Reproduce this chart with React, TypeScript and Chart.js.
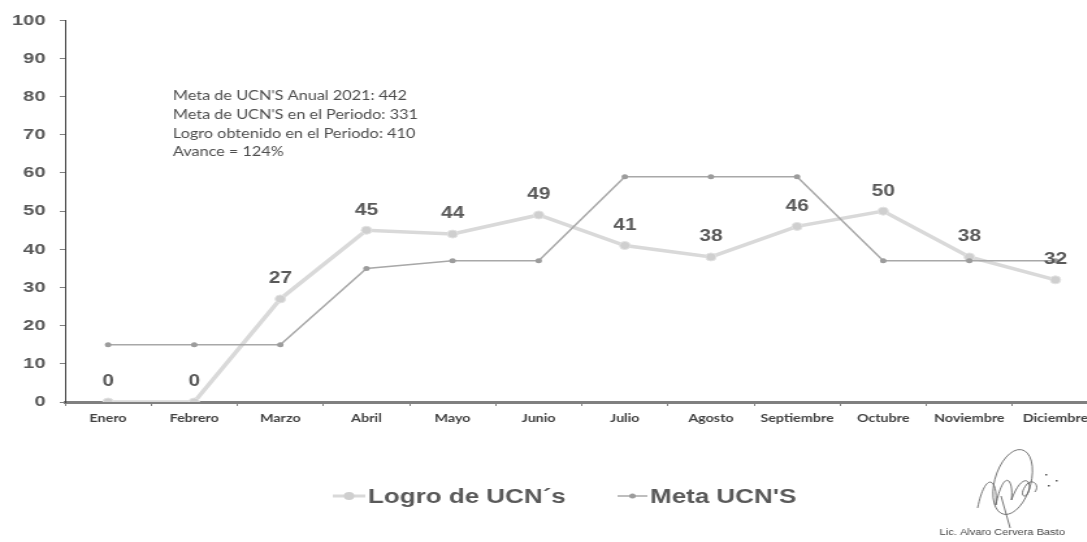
import React, { useEffect, useRef } from "react";
import { Chart, registerables } from "chart.js";

Chart.register(...registerables);

const categories = ["Enero", "Febrero", "Marzo", "Abril", "Mayo", "Junio", "Julio", "Agosto", "Septiembre", "Octubre", "Noviembre", "Diciembre"];
const logroValues = [0, 0, 27, 45, 44, 49, 41, 38, 46, 50, 38, 32];
const metaValues = [15, 15, 15, 35, 37, 37, 59, 59, 59, 37, 37, 37];
const seriesNames = ["Logro de UCN´s", "Meta UCN'S"];
const noteLines = [
  "Meta de UCN'S Anual 2021: 442",
  "Meta de UCN'S en el Periodo: 331",
  "Logro obtenido en el Periodo: 410",
  "Avance = 124%",
];
const signatureText = "Lic. Alvaro Cervera Basto";

const STRETCH = 1.3;
const W = 850;
const H = 542;

const LOGRO_LINE = "#d9d9d9";
const LOGRO_POINT = "#cfcfcf";
const META_LINE = "#a8a8a8";
const META_POINT = "#9c9c9c";
const TEXT = "#595959";

const extrasPlugin = {
  id: "extras",
  afterDatasetsDraw(chart: any) {
    const ctx = chart.ctx;
    const meta = chart.getDatasetMeta(0);
    ctx.save();
    ctx.font = "bold 16px 'Liberation Sans', Arial, sans-serif";
    ctx.fillStyle = TEXT;
    ctx.textAlign = "center";
    ctx.textBaseline = "middle";
    meta.data.forEach((pt: any, i: number) => {
      ctx.fillText(String(logroValues[i]), pt.x, pt.y - 20);
    });
    ctx.restore();
  },
  afterDraw(chart: any) {
    const ctx = chart.ctx;
    ctx.save();
    // notes
    ctx.font = "12.5px Lato, 'Open Sans', sans-serif";
    ctx.fillStyle = "#4d4d4d";
    ctx.textAlign = "left";
    ctx.textBaseline = "middle";
    noteLines.forEach((t, i) => ctx.fillText(t, 133, 96 + i * 18.8));

    // legend
    const ly = 496;
    const items = [
      { x0: 256, x1: 281, text: 283, color: LOGRO_LINE, pc: LOGRO_POINT, lw: 3, r: 4 },
      { x0: 475, x1: 498, text: 500, color: META_LINE, pc: META_POINT, lw: 1.5, r: 2.5 },
    ];
    items.forEach((it, i) => {
      ctx.strokeStyle = it.color;
      ctx.lineWidth = it.lw;
      ctx.beginPath();
      ctx.moveTo(it.x0, ly);
      ctx.lineTo(it.x1, ly);
      ctx.stroke();
      ctx.fillStyle = it.pc;
      ctx.beginPath();
      ctx.arc((it.x0 + it.x1) / 2, ly, it.r, 0, Math.PI * 2);
      ctx.fill();
      ctx.fillStyle = TEXT;
      ctx.font = "bold 20px 'Liberation Sans', Arial, sans-serif";
      ctx.textAlign = "left";
      ctx.textBaseline = "middle";
      ctx.fillText(seriesNames[i], it.text, ly + 1);
    });

    // signature
    ctx.strokeStyle = "#555";
    ctx.lineWidth = 0.8;
    ctx.beginPath();
    ctx.ellipse(779, 482, 14, 33, 0.2, 0, Math.PI * 2);
    ctx.stroke();
    ctx.beginPath();
    ctx.moveTo(752, 508);
    ctx.bezierCurveTo(758, 470, 768, 478, 766, 505);
    ctx.bezierCurveTo(772, 468, 780, 478, 778, 500);
    ctx.bezierCurveTo(784, 478, 792, 476, 792, 488);
    ctx.bezierCurveTo(790, 502, 782, 496, 790, 484);
    ctx.bezierCurveTo(795, 478, 800, 486, 796, 492);
    ctx.stroke();
    ctx.beginPath();
    ctx.moveTo(770, 496);
    ctx.lineTo(777, 528);
    ctx.stroke();
    ctx.fillStyle = "#555";
    ctx.fillRect(804, 474, 1.5, 1.5);
    ctx.fillRect(806, 485, 1.5, 1.5);
    ctx.fillRect(812, 480, 1.5, 1.5);
    ctx.fillStyle = "#444";
    ctx.font = "8.5px 'Liberation Sans', Arial, sans-serif";
    ctx.textAlign = "center";
    ctx.textBaseline = "middle";
    ctx.fillText(signatureText, 771, 533);
    ctx.restore();
  },
};

export default function App() {
  const ref = useRef<HTMLCanvasElement | null>(null);
  useEffect(() => {
    if (!ref.current) return;
    const chart = new Chart(ref.current, {
      type: "line",
      data: {
        labels: categories,
        datasets: [
          {
            label: seriesNames[0],
            data: logroValues,
            borderColor: LOGRO_LINE,
            backgroundColor: LOGRO_POINT,
            borderWidth: 3.5,
            pointRadius: 4,
            pointBackgroundColor: LOGRO_POINT,
            pointBorderColor: "#e2e2e2",
            pointBorderWidth: 1,
            tension: 0,
            order: 2,
          },
          {
            label: seriesNames[1],
            data: metaValues,
            borderColor: META_LINE,
            backgroundColor: META_POINT,
            borderWidth: 1.5,
            pointRadius: 2.5,
            pointBackgroundColor: META_POINT,
            pointBorderColor: META_POINT,
            pointBorderWidth: 0,
            tension: 0,
            order: 1,
          },
        ],
      },
      options: {
        responsive: false,
        animation: false,
        layout: { padding: { top: 20, right: 4, left: 0, bottom: 0 } },
        plugins: { legend: { display: false }, tooltip: { enabled: false } },
        scales: {
          x: {
            offset: true,
            grid: { display: true, drawOnChartArea: false, offset: true, tickLength: 4, color: "#808080" },
            border: { display: true, color: "#808080", width: 3 },
            ticks: {
              color: "#404040",
              font: { family: "Lato, 'Open Sans', sans-serif", size: 11, weight: "bold" },
              padding: 6,
              maxRotation: 0,
              autoSkip: false,
            },
            afterFit: (s: any) => {
              s.height = 140;
            },
          },
          y: {
            min: 0,
            max: 100,
            ticks: {
              stepSize: 10,
              color: TEXT,
              font: { family: "'Liberation Sans', Arial, sans-serif", size: 15.5, weight: "bold" },
              padding: 11,
            },
            grid: { display: true, drawOnChartArea: false, tickLength: 4, color: "#808080" },
            border: { display: true, color: "#404040", width: 1 },
            afterFit: (s: any) => {
              s.width = 50;
            },
          },
        },
      },
      plugins: [extrasPlugin],
    } as any);
    return () => chart.destroy();
  }, []);

  return (
    <div style={{ position: "fixed", left: 0, top: 0, width: 1087, height: 542, overflow: "hidden", background: "#fff" }}>
      <div style={{ width: W, height: H, transform: `scaleX(${STRETCH})`, transformOrigin: "0 0" }}>
        <canvas ref={ref} width={W} height={H} />
      </div>
    </div>
  );
}
